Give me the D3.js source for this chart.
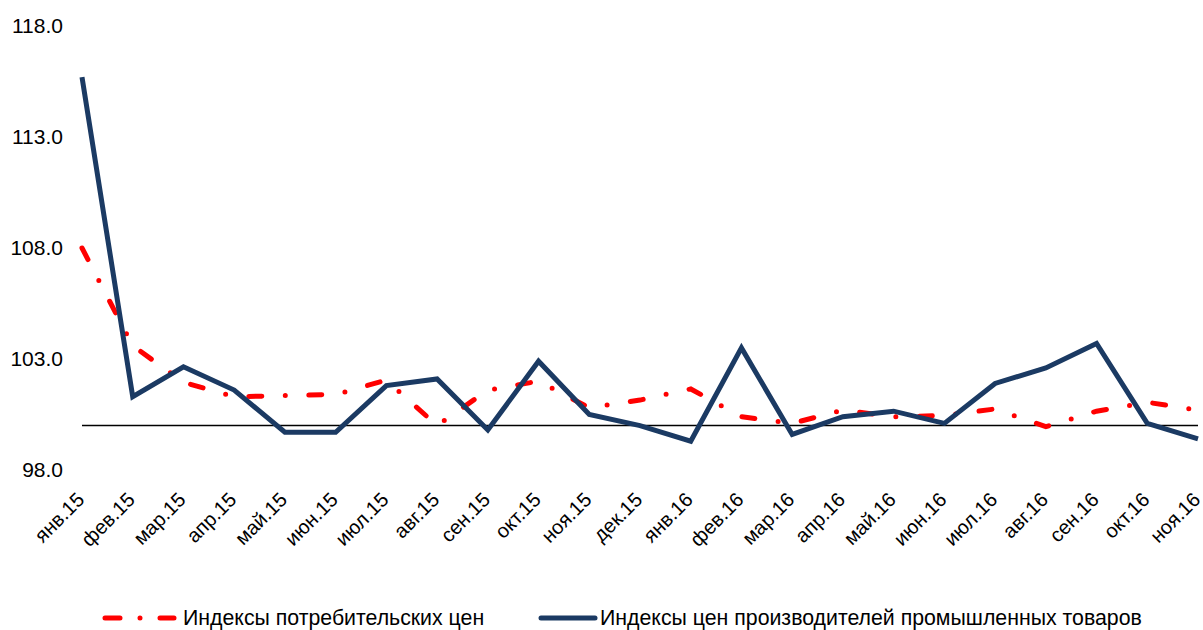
<!DOCTYPE html>
<html>
<head>
<meta charset="utf-8">
<script src="https://cdn.jsdelivr.net/npm/d3@7"></script>
<style>
  body { margin: 0; background: #fff; }
  svg { display: block; font-family: "Liberation Sans", Arial, sans-serif; }
</style>
</head>
<body>
<svg id="chart" width="1203" height="630"></svg>
<script>
const categories = ["янв.15", "фев.15", "мар.15", "апр.15", "май.15", "июн.15", "июл.15", "авг.15",
  "сен.15", "окт.15", "ноя.15", "дек.15", "янв.16", "фев.16", "мар.16", "апр.16", "май.16",
  "июн.16", "июл.16", "авг.16", "сен.16", "окт.16", "ноя.16"];

// индексы потребительских цен
const cpi = [108.0, 103.6, 101.95, 101.3, 101.35, 101.4, 102.05, 100.0, 101.6, 102.0, 100.8, 101.15,
  101.65, 100.4, 100.1, 100.7, 100.4, 100.45, 100.75, 99.95, 100.65, 101.05, 100.7];

// индексы цен производителей промышленных товаров
const ppi = [115.7, 101.3, 102.65, 101.6, 99.7, 99.7, 101.8, 102.1, 99.8, 102.9, 100.5, 100.0,
  99.3, 103.5, 99.6, 100.4, 100.65, 100.1, 101.9, 102.6, 103.7, 100.1, 99.4];

const yTicks = [98, 103, 108, 113, 118];
const baseline = 100;
const legendLabels = ["Индексы потребительских цен", "Индексы цен производителей промышленных товаров"];

const RED = "#ff0000";
const BLUE = "#1b3a63";
const DASH = "13 23.5 0 23.5";

const svg = d3.select("#chart");

const x = d3.scalePoint().domain(categories).range([82, 1198]);
const y = d3.scaleLinear().domain([98, 118]).range([470, 26]);

// y axis labels
const yAxis = svg.append("g")
  .attr("transform", "translate(63,0)")
  .call(d3.axisLeft(y).tickValues(yTicks).tickSize(0).tickPadding(0).tickFormat(d3.format(".1f")));
yAxis.select(".domain").remove();
yAxis.selectAll("text")
  .attr("font-size", 21)
  .attr("font-family", "Liberation Sans, Arial, sans-serif")
  .attr("fill", "#000");

// x axis labels, rotated
const xAxis = svg.append("g")
  .attr("transform", "translate(0,501)")
  .call(d3.axisBottom(x).tickSize(0).tickPadding(0));
xAxis.select(".domain").remove();
xAxis.selectAll("text")
  .attr("x", 0)
  .attr("y", 0)
  .attr("dy", 0)
  .attr("transform", "translate(3,0) rotate(-45)")
  .style("text-anchor", "end")
  .attr("font-size", 20)
  .attr("font-family", "Liberation Sans, Arial, sans-serif")
  .attr("fill", "#000");

// horizontal line at 100
svg.append("line")
  .attr("x1", x(categories[0]))
  .attr("x2", x(categories[categories.length - 1]))
  .attr("y1", y(baseline))
  .attr("y2", y(baseline))
  .attr("stroke", "#000")
  .attr("stroke-width", 1.5);

const line = d3.line()
  .x((d, i) => x(categories[i]))
  .y(d => y(d));

svg.append("path")
  .datum(cpi)
  .attr("d", line)
  .attr("fill", "none")
  .attr("stroke", RED)
  .attr("stroke-width", 5)
  .attr("stroke-linecap", "round")
  .attr("stroke-dasharray", DASH);

svg.append("path")
  .datum(ppi)
  .attr("d", line)
  .attr("fill", "none")
  .attr("stroke", BLUE)
  .attr("stroke-width", 5)
  .attr("stroke-linejoin", "miter");

// legend
const LY = 618;
const legend = svg.append("g").attr("font-size", 21.3);
legend.append("line")
  .attr("x1", 105).attr("x2", 174).attr("y1", LY).attr("y2", LY)
  .attr("stroke", RED).attr("stroke-width", 5)
  .attr("stroke-linecap", "round")
  .attr("stroke-dasharray", "15 20 0 20");
legend.append("text")
  .attr("x", 183).attr("y", LY).attr("dy", "0.33em")
  .text(legendLabels[0]);
legend.append("line")
  .attr("x1", 541).attr("x2", 595).attr("y1", LY).attr("y2", LY)
  .attr("stroke", BLUE).attr("stroke-width", 5)
  .attr("stroke-linecap", "round");
legend.append("text")
  .attr("x", 600).attr("y", LY).attr("dy", "0.33em")
  .text(legendLabels[1]);
</script>
</body>
</html>
